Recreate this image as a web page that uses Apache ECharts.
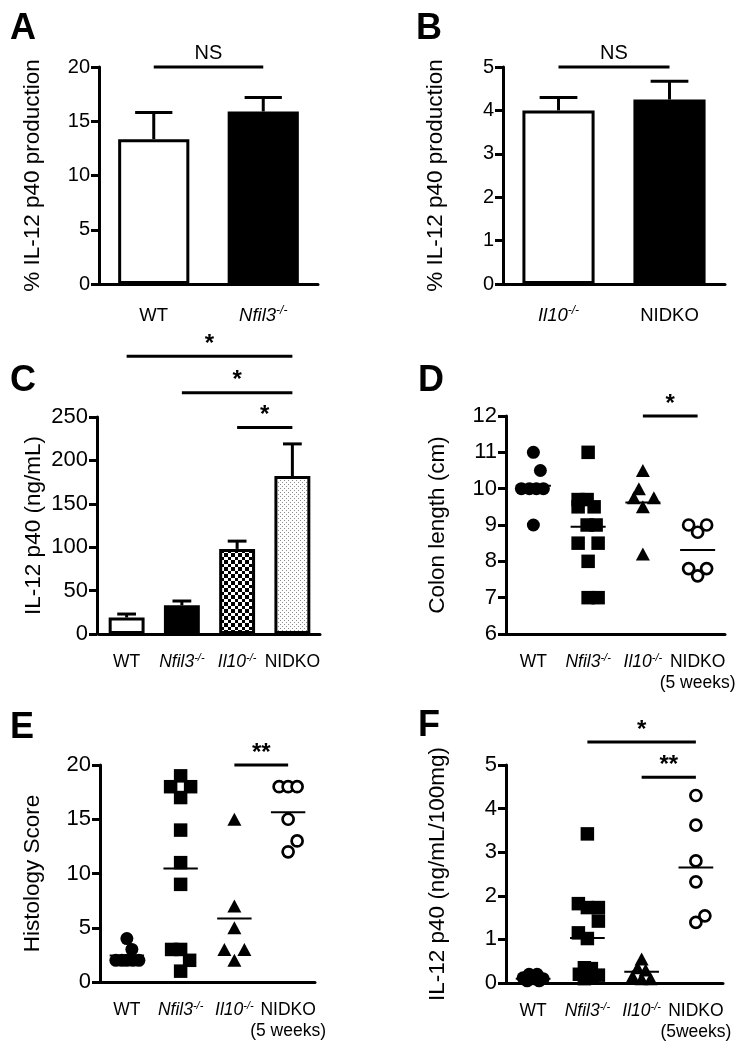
<!DOCTYPE html>
<html><head><meta charset="utf-8">
<script src="https://cdn.jsdelivr.net/npm/echarts@6/dist/echarts.min.js"></script>
<style>html,body{margin:0;padding:0;background:#fff}#c{width:746px;height:1050px}</style>
</head><body><div id="c"></div>
<script>
// ---------------- data ----------------
const catsA = ['WT', 'Nfil3-/-'];
const meanA = [13.35, 15.9];
const upperA = [15.8, 17.2];
const sigA = [{from: 0, to: 1, y: 20, label: 'NS'}];

const catsB = ['Il10-/-', 'NIDKO'];
const meanB = [4.0, 4.25];
const upperB = [4.3, 4.67];
const sigB = [{from: 0, to: 1, y: 5, label: 'NS'}];

const catsC = ['WT', 'Nfil3-/-', 'Il10-/-', 'NIDKO'];
const meanC = [19, 33, 98, 182];
const upperC = [23, 38, 107, 219];
const sigC = [{from: 2, to: 3, y: 238, label: '*'}, {from: 1, to: 3, y: 278, label: '*'}, {from: 0, to: 3, y: 320, label: '*'}];

const catsD = ['WT', 'Nfil3-/-', 'Il10-/-', 'NIDKO\n(5 weeks)'];
const dWT = [11, 10.5, 10, 10, 10, 10, 9];
const dNfil3 = [11, 9.7, 9.7, 9.5, 9.5, 9, 9, 8.5, 8.5, 8, 7, 7];
const dIl10 = [10.5, 10, 9.75, 9.75, 9.5, 8.2];
const dNIDKO = [9, 9, 8.8, 7.8, 7.8, 7.6];
const meansD = [10.08, 8.95, 9.62, 8.31];
const sigD = [{from: 2, to: 3, y: 12, label: '*'}];

const catsE = ['WT', 'Nfil3-/-', 'Il10-/-', 'NIDKO\n(5 weeks)'];
const eWT = [4, 3, 2, 2, 2, 2, 2];
const eNfil3 = [19, 18, 18, 17, 14, 11, 9, 3, 3, 2, 1];
const eIl10 = [15, 7, 5, 3, 3, 2];
const eNIDKO = [18, 18, 18, 15, 13, 12];
const meansE = [2.45, 10.45, 5.85, 15.65];
const sigE = [{from: 2, to: 3, y: 20, label: '**'}];

const catsF = ['WT', 'Nfil3-/-', 'Il10-/-', 'NIDKO\n(5weeks)'];
const fWT = [0.2, 0.2, 0.12, 0.1, 0.1, 0.05, 0.05];
const fNfil3 = [3.42, 1.82, 1.73, 1.73, 1.42, 1.15, 1.02, 0.35, 0.33, 0.2, 0.18, 0.1, 0.12];
const fIl10 = [0.55, 0.35, 0.3, 0.15, 0.1, 0.1];
const fNIDKO = [4.3, 3.62, 2.8, 2.32, 1.54, 1.39];
const meansF = [0.1, 1.03, 0.26, 2.65];
const sigF = [{from: 2, to: 3, y: 4.72, label: '**'}, {from: 1, to: 3, y: 5.53, label: '*'}];

// ---------------- layout / style (pixel offsets for side-by-side dots) ----------------
const jit = {
  dWT: [0, 7, -12, -4, 3, 10, 0],
  dNfil3: [0, -10, -1, -10, 6, -1, 8, -10, 10, 0, 0, 10],
  dIl10: [0, -4, -9, 11, 0, 0],
  dNIDKO: [-9, 9, 0, -9, 9, 0],
  eWT: [0, 5, -11, -5, 0, 6, 12],
  eNfil3: [0, -10, 10, 0, 0, 0, 0, -9, 0, 9, 0],
  eIl10: [0, 0, 0, -10, 10, 0],
  eNIDKO: [-9, 0, 9, 0, 9, 0],
  fWT: [-4, 4, -10, 10, 0, -6, 6],
  fNfil3: [0, -9, 0, 11, 11, -9, 0, -3, 4, -8, 11, -3, 5],
  fIl10: [0, -4, 4, -9, 9, 0],
  fNIDKO: [0, 0, 0, 0, 9, 0]
};

const FONT = '"Liberation Sans", Arial, Helvetica, sans-serif';

function makePattern(kind) {
  const c = document.createElement('canvas');
  const ctx = c.getContext('2d');
  if (kind === 'checker') {
    c.width = c.height = 7;
    ctx.fillStyle = '#fff'; ctx.fillRect(0, 0, 7, 7);
    ctx.fillStyle = '#000'; ctx.fillRect(0, 0, 4, 4); ctx.fillRect(4, 4, 3, 3);
  } else {
    c.width = c.height = 4;
    ctx.fillStyle = '#fff'; ctx.fillRect(0, 0, 4, 4);
    ctx.fillStyle = '#8a8a8a'; ctx.fillRect(0, 0, 1, 1); ctx.fillRect(2, 2, 1, 1);
  }
  return {image: c, repeat: 'repeat'};
}

const grids = [
  {left: 99, top: 67, width: 219, height: 217},
  {left: 503, top: 67, width: 222, height: 217},
  {left: 99, top: 417, width: 221, height: 217},
  {left: 506, top: 416, width: 219, height: 218},
  {left: 100, top: 765, width: 215, height: 217},
  {left: 506, top: 765, width: 217, height: 218}
];

function labelFmt(name) {
  const lines = name.split('\n');
  return lines.map(function (l) {
    if (l.endsWith('-/-')) return '{it|' + l.slice(0, -3) + '}{sup|-/-}';
    return '{n|' + l + '}';
  }).join('\n');
}
function rich(fs) {
  return {
    n: {fontSize: fs, fontFamily: FONT, color: '#000', lineHeight: fs + 3},
    it: {fontSize: fs, fontFamily: FONT, fontStyle: 'italic', color: '#000', lineHeight: fs + 3},
    sup: {fontSize: Math.round(fs * 0.65), fontFamily: FONT, fontStyle: 'italic', color: '#000', verticalAlign: 'top', lineHeight: Math.round(fs * 0.65)}
  };
}

function xAxis(i, cats, fs, margin) {
  return {
    gridIndex: i, type: 'category', data: cats,
    axisLine: {onZero: false, lineStyle: {color: '#000', width: 3}},
    axisTick: {alignWithLabel: true, length: 8, lineStyle: {color: '#000', width: 3}},
    axisLabel: {interval: 0, margin: margin, color: '#000', fontFamily: FONT, fontSize: fs, formatter: labelFmt, rich: rich(fs)},
    splitLine: {show: false}
  };
}
function yAxis(i, min, max, interval, name, gap, fs, offset) {
  return {
    gridIndex: i, type: 'value', min: min, max: max, interval: interval, offset: offset || 0,
    axisLine: {show: true, lineStyle: {color: '#000', width: 3}},
    axisTick: {show: true, length: 8, lineStyle: {color: '#000', width: 3}},
    axisLabel: {color: '#000', fontFamily: FONT, fontSize: fs, margin: 9},
    splitLine: {show: false},
    name: name, nameLocation: 'middle', nameGap: gap,
    nameTextStyle: {color: '#000', fontFamily: FONT, fontSize: 22.5}
  };
}

const series = [];

function bars(i, means, colors) {
  series.push({
    type: 'bar', xAxisIndex: i, yAxisIndex: i, barWidth: '65%',
    data: means.map(function (v, k) { return {value: v, itemStyle: {color: colors[k]}}; }),
    itemStyle: {borderColor: '#000', borderWidth: 3, opacity: 1},
    silent: true
  });
}
function errBars(i, means, uppers) {
  series.push({
    type: 'custom', xAxisIndex: i, yAxisIndex: i, clip: false, z: 5, silent: true,
    data: uppers.map(function (u, k) { return [k, u]; }),
    renderItem: function (params, api) {
      const k = api.value(0), u = api.value(1), m = means[params.dataIndex];
      const p0 = api.coord([k, m]), p1 = api.coord([k, u]);
      const hw = api.size([1, 0])[0] * 0.17;
      const st = {stroke: '#000', lineWidth: 3};
      return {type: 'group', children: [
        {type: 'line', shape: {x1: p0[0], y1: p0[1], x2: p1[0], y2: p1[1]}, style: st},
        {type: 'line', shape: {x1: p1[0] - hw, y1: p1[1], x2: p1[0] + hw, y2: p1[1]}, style: st}
      ]};
    }
  });
}
function meanLines(i, means) {
  series.push({
    type: 'custom', xAxisIndex: i, yAxisIndex: i, clip: false, z: 6, silent: true,
    data: means.map(function (m, k) { return [k, m]; }),
    renderItem: function (params, api) {
      const p = api.coord([api.value(0), api.value(1)]);
      const hw = api.size([1, 0])[0] * 0.32;
      return {type: 'line', shape: {x1: p[0] - hw, y1: p[1], x2: p[0] + hw, y2: p[1]}, style: {stroke: '#000', lineWidth: 2}};
    }
  });
}
function sigLines(i, sig) {
  series.push({
    type: 'custom', xAxisIndex: i, yAxisIndex: i, clip: false, z: 6, silent: true,
    data: sig.map(function (s) { return [s.from, s.y]; }),
    renderItem: function (params, api) {
      const s = sig[params.dataIndex];
      const a = api.coord([s.from, s.y]), b = api.coord([s.to, s.y]);
      const isStar = s.label.indexOf('*') >= 0;
      return {type: 'group', children: [
        {type: 'line', shape: {x1: a[0], y1: a[1], x2: b[0], y2: b[1]}, style: {stroke: '#000', lineWidth: 3}},
        {type: 'text', style: {text: s.label, x: (a[0] + b[0]) / 2, y: a[1] - (isStar ? 12 : 14), align: 'center', verticalAlign: 'middle',
          font: (isStar ? 'bold 24px ' : '20px ') + FONT, fill: '#000'}}
      ]};
    }
  });
}
function dots(i, cat, vals, offs, shape) {
  const st = {
    circle: {symbol: 'circle', size: 13, item: {color: '#000', opacity: 1}},
    square: {symbol: 'rect', size: 13.5, item: {color: '#000', opacity: 1}},
    triangle: {symbol: 'triangle', size: [14, 13], item: {color: '#000', opacity: 1}},
    open: {symbol: 'circle', size: 11, item: {color: '#fff', borderColor: '#000', borderWidth: 2.7, opacity: 1}}
  }[shape];
  series.push({
    type: 'scatter', xAxisIndex: i, yAxisIndex: i, symbol: st.symbol, symbolSize: st.size,
    itemStyle: st.item, clip: false, silent: true, z: 3,
    data: vals.map(function (v, k) { return {value: [cat, v], symbolOffset: [offs[k], 0]}; })
  });
}

// A
bars(0, meanA, ['#fff', '#000']); errBars(0, meanA, upperA); sigLines(0, sigA);
// B
bars(1, meanB, ['#fff', '#000']); errBars(1, meanB, upperB); sigLines(1, sigB);
// C
bars(2, meanC, ['#fff', '#000', makePattern('checker'), makePattern('dots')]); errBars(2, meanC, upperC); sigLines(2, sigC);
// D
dots(3, 0, dWT, jit.dWT, 'circle'); dots(3, 1, dNfil3, jit.dNfil3, 'square');
dots(3, 2, dIl10, jit.dIl10, 'triangle'); dots(3, 3, dNIDKO, jit.dNIDKO, 'open');
meanLines(3, meansD); sigLines(3, sigD);
// E
dots(4, 0, eWT, jit.eWT, 'circle'); dots(4, 1, eNfil3, jit.eNfil3, 'square');
dots(4, 2, eIl10, jit.eIl10, 'triangle'); dots(4, 3, eNIDKO, jit.eNIDKO, 'open');
meanLines(4, meansE); sigLines(4, sigE);
// F
dots(5, 0, fWT, jit.fWT, 'circle'); dots(5, 1, fNfil3, jit.fNfil3, 'square');
dots(5, 2, fIl10, jit.fIl10, 'triangle'); dots(5, 3, fNIDKO, jit.fNIDKO, 'open');
meanLines(5, meansF); sigLines(5, sigF);

const letters = [['A', 10, 11], ['B', 416, 11], ['C', 10, 363], ['D', 418, 363], ['E', 10, 710], ['F', 418, 708]];

const chart = echarts.init(document.getElementById('c'), null, {renderer: 'canvas'});
chart.setOption({
  animation: false,
  backgroundColor: '#fff',
  textStyle: {fontFamily: FONT},
  grid: grids,
  xAxis: [xAxis(0, catsA, 18.5, 21), xAxis(1, catsB, 18.5, 21), xAxis(2, catsC, 17.5, 18), xAxis(3, catsD, 17.5, 18), xAxis(4, catsE, 17.5, 18), xAxis(5, catsF, 17.5, 18)],
  yAxis: [
    yAxis(0, 0, 20, 5, '% IL-12 p40 production', 55, 20),
    yAxis(1, 0, 5, 1, '% IL-12 p40 production', 56, 20),
    yAxis(2, 0, 250, 50, 'IL-12 p40 (ng/mL)', 52, 22, 2),
    yAxis(3, 6, 12, 1, 'Colon length (cm)', 57, 22),
    yAxis(4, 0, 20, 5, 'Histology Score', 56, 22),
    yAxis(5, 0, 5, 1, 'IL-12 p40 (ng/mL/100mg)', 57, 22)
  ],
  graphic: letters.map(function (l) {
    return {type: 'text', left: l[1], top: l[2], style: {text: l[0], font: 'bold 36px ' + FONT, fill: '#000'}};
  }),
  series: series
});
</script></body></html>
